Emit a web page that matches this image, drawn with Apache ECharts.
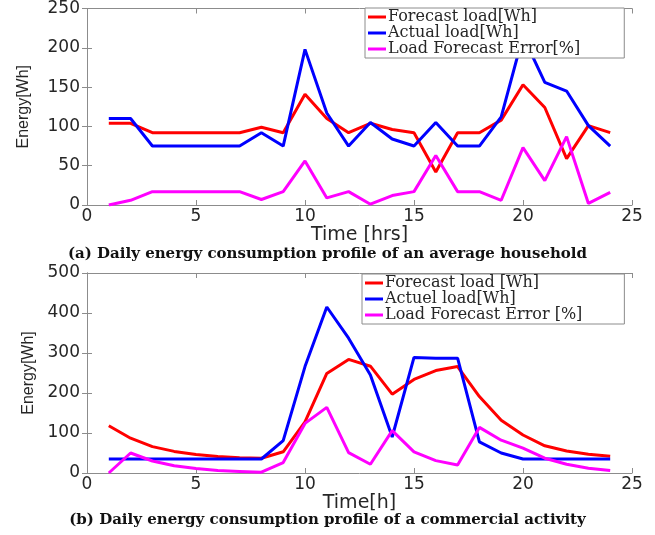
<!DOCTYPE html>
<html>
<head>
<meta charset="utf-8">
<script src="https://cdn.jsdelivr.net/npm/echarts@6/dist/echarts.min.js"></script>
<style>
  html, body { margin: 0; padding: 0; background: #fff; }
  #main { width: 655px; height: 535px; }
</style>
</head>
<body>
<div id="main"></div>
<script>
// hours of the day
var hours = [1,2,3,4,5,6,7,8,9,10,11,12,13,14,15,16,17,18,19,20,21,22,23,24];

// (a) average household
var forecastA = [104,104,92,92,92,92,92,99,92,141,110,92,104,96,92,42,92,92,108,153,124,59,101,92];
var actualA   = [110,110,75,75,75,75,75,92,75,198,117,75,105,84,75,105,75,75,112,215,156,145,101,75];
var errorA    = [0,6,17,17,17,17,17,7,17,56,9,17,1,12,17,63,17,17,6,73,31,87,2,16];

// (b) commercial activity
var forecastB = [118,87,66,54,46,41,38,37,53,128,249,284,267,197,234,256,266,191,132,95,68,55,47,42];
var actualB   = [35,35,35,35,35,35,35,35,81,266,415,337,245,90,289,287,287,78,50,35,35,35,35,35];
var errorB    = [0,50,30,18,11,6,4,2,26,124,164,51,22,106,53,31,20,114,82,62,37,22,12,6];

var namesA = ['Forecast load[Wh]', 'Actual load[Wh]', 'Load Forecast Error[%]'];
var namesB = ['Forecast load [Wh]', 'Actuel load[Wh]', 'Load Forecast Error [%]'];
var captions = ['(a) Daily energy consumption profile of an average household',
                '(b) Daily energy consumption profile of a commercial activity'];
var colors = ['#ff0000', '#0000ff', '#ff00ff'];

function pairs(vals) {
  return hours.map(function (h, i) { return [h, vals[i]]; });
}

var frame = '#8c8c8c';
var tickFont = { color: '#262626', fontFamily: 'DejaVu Sans', fontSize: 17 };

function xAx(grid, name, pos, gap) {
  return {
    type: 'value', gridIndex: grid, position: pos, min: 0, max: 25, interval: 5,
    name: pos === 'bottom' ? name : '', nameLocation: 'middle', nameGap: gap,
    nameTextStyle: { color: '#262626', fontFamily: 'DejaVu Sans', fontSize: 19 },
    axisLine: { onZero: false, lineStyle: { color: frame, width: 1 } },
    axisTick: { inside: true, length: 5, lineStyle: { color: frame } },
    axisLabel: pos === 'bottom' ? Object.assign({ margin: 3 }, tickFont) : { show: false },
    splitLine: { show: false }
  };
}

function yAx(grid, max, interval, pos, gap) {
  return {
    type: 'value', gridIndex: grid, position: pos, min: 0, max: max, interval: interval,
    name: pos === 'left' ? 'Energy[Wh]' : '', nameLocation: 'middle', nameGap: gap,
    nameTextStyle: { color: '#262626', fontFamily: 'Liberation Sans', fontSize: 16 },
    axisLine: { show: true, lineStyle: { color: frame, width: 1 } },
    axisTick: { show: true, inside: true, length: 5, lineStyle: { color: frame } },
    axisLabel: pos === 'left' ? Object.assign({ margin: 7 }, tickFont) : { show: false },
    splitLine: { show: false }
  };
}

function line(name, vals, color, axisIdx) {
  return {
    name: name, type: 'line', xAxisIndex: axisIdx, yAxisIndex: axisIdx,
    data: pairs(vals), showSymbol: false, symbol: 'none',
    lineStyle: { color: color, width: 3 }, itemStyle: { color: color },
    z: 3, animation: false
  };
}

function legend(names, left, top, padRight) {
  return {
    data: names, orient: 'vertical', left: left, top: top,
    icon: 'rect', itemWidth: 18, itemHeight: 3, itemGap: 0,
    padding: [1, padRight, 1, 3],
    backgroundColor: '#fff', borderColor: frame, borderWidth: 1,
    textStyle: { color: '#262626', fontFamily: 'DejaVu Serif', fontSize: 16, lineHeight: 15, padding: [0, 0, 0, -3] }
  };
}

var myChart = echarts.init(document.getElementById('main'));
myChart.setOption({
  backgroundColor: '#fff',
  animation: false,
  grid: [
    { left: 87, right: 23, top: 7, height: 198 },
    { left: 87, right: 23, top: 273, height: 200 }
  ],
  xAxis: [
    xAx(0, 'Time [hrs]', 'bottom', 15),
    xAx(0, '', 'top', 0),
    xAx(1, 'Time[h]', 'bottom', 17),
    xAx(1, '', 'top', 0)
  ],
  yAxis: [
    yAx(0, 250, 50, 'left', 55),
    yAx(0, 250, 50, 'right', 0),
    yAx(1, 500, 100, 'left', 42),
    yAx(1, 500, 100, 'right', 0)
  ],
  legend: [
    legend(namesA, 365, 8, 44),
    legend(namesB, 362, 274, 42)
  ],
  graphic: [
    { type: 'text', left: 'center', top: 247,
      style: { text: captions[0], fill: '#111', font: 'bold 15px "DejaVu Serif"' } },
    { type: 'text', left: 'center', top: 513,
      style: { text: captions[1], fill: '#111', font: 'bold 15px "DejaVu Serif"' } }
  ],
  series: [
    line(namesA[0], forecastA, colors[0], 0),
    line(namesA[1], actualA, colors[1], 0),
    line(namesA[2], errorA, colors[2], 0),
    line(namesB[0], forecastB, colors[0], 2),
    line(namesB[1], actualB, colors[1], 2),
    line(namesB[2], errorB, colors[2], 2)
  ]
});
</script>
</body>
</html>
